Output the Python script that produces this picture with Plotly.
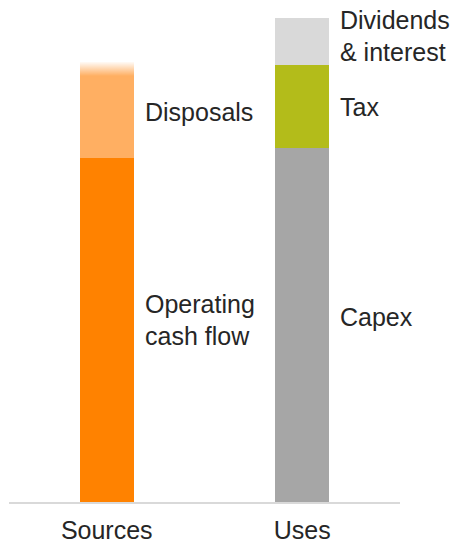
import plotly.graph_objects as go

categories = ["Sources", "Uses"]
# values in arbitrary units
operating_cash_flow = [344, 0]
disposals = [96, 0]
capex = [0, 354]
tax = [0, 83]
dividends_interest = [0, 47]

seg_names = ["Operating cash flow", "Disposals", "Capex", "Tax", "Dividends & interest"]
seg_values = [operating_cash_flow, disposals, capex, tax, dividends_interest]
seg_colors = ["#FF8200", "#FFAF62", "#A6A6A6", "#B3BC1A", "#D9D9D9"]
seg_labels = [["Operating", "cash flow"], ["Disposals"], ["Capex"], ["Tax"], ["Dividends", "& interest"]]

BAR_W = 0.276
xs = list(range(len(categories)))
FONT = "Liberation Sans, Arial, sans-serif"

fig = go.Figure()
for name, vals, col in zip(seg_names, seg_values, seg_colors):
    fig.add_trace(go.Bar(x=xs, y=vals, name=name, marker=dict(color=col, line=dict(width=0)),
                         width=BAR_W, hoverinfo="skip"))

# soft fade at top of sources bar
src_total = operating_cash_flow[0] + disposals[0]
fade = 14
fig.add_trace(go.Scatter(
    x=[-BAR_W / 2 - 0.01, BAR_W / 2 + 0.01, BAR_W / 2 + 0.01, -BAR_W / 2 - 0.01, -BAR_W / 2 - 0.01],
    y=[src_total - fade, src_total - fade, src_total + 1, src_total + 1, src_total - fade],
    mode="lines", line=dict(width=0), fill="toself",
    fillgradient=dict(type="vertical", start=src_total - fade, stop=src_total,
                      colorscale=[[0, "rgba(255,255,255,0)"], [1, "rgba(255,255,255,0.95)"]]),
    hoverinfo="skip", showlegend=False))

# labels
annotations = []
cum = [0] * len(categories)
label_shift = {"Operating cash flow": 10, "Capex": 8, "Tax": 0, "Disposals": -2, "Dividends & interest": 6}
for name, vals, lines in zip(seg_names, seg_values, seg_labels):
    for i, v in enumerate(vals):
        if v > 0:
            mid = cum[i] + v / 2
            n = len(lines)
            for k, line in enumerate(lines):
                off = (k - (n - 1) / 2) * 32
                annotations.append(dict(
                    x=xs[i] + BAR_W / 2, y=mid, xref="x", yref="y", text=line,
                    showarrow=False, xanchor="left", yanchor="middle",
                    xshift=9, yshift=label_shift[name] - off,
                    font=dict(family=FONT, size=25, color="#262626")))
        cum[i] += v

fig.update_layout(
    width=454, height=545,
    margin=dict(l=9, r=54, t=0, b=43),
    barmode="stack", bargap=0,
    plot_bgcolor="white", paper_bgcolor="white",
    showlegend=False,
    annotations=annotations,
    font=dict(family=FONT, size=25, color="#262626"),
    xaxis=dict(range=[-0.5, 1.5], tickvals=xs, ticktext=categories, showgrid=False,
               zeroline=False, showline=True, linecolor="#D9D9D9", linewidth=2,
               ticks="", ticklabelstandoff=5, fixedrange=True),
    yaxis=dict(range=[0, 502], visible=False, showgrid=False, zeroline=False, fixedrange=True),
)

fig.write_html("out.html", config={"displayModeBar": False})
